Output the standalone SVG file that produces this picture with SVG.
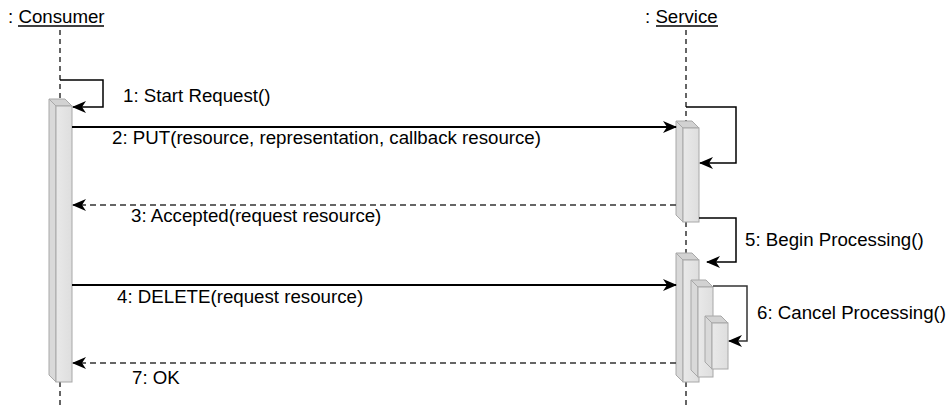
<svg xmlns="http://www.w3.org/2000/svg" width="950" height="406" viewBox="0 0 950 406">
<defs>
<style>
text{font-family:"Liberation Sans",Arial,Helvetica,sans-serif;font-size:18.7px;fill:#000}
.life{stroke:#333;stroke-width:1.5;stroke-dasharray:5,4;fill:none}
.msg{stroke:#000;stroke-width:2;fill:none}
.ret{stroke:#333;stroke-width:1.5;stroke-dasharray:6,4;fill:none}
.self{stroke:#000;stroke-width:1.5;fill:none}
.front{fill:url(#gf);stroke:#a8a8a8;stroke-width:1}
.side{fill:#d9d9d9;stroke:#a8a8a8;stroke-width:1}
.top{fill:#d2d2d2;stroke:#a8a8a8;stroke-width:1}
.ul{stroke:#000;stroke-width:1.3}
</style>
<linearGradient id="gf" x1="0" y1="0" x2="1" y2="0">
<stop offset="0" stop-color="#e9e9e9"/>
<stop offset="1" stop-color="#dedede"/>
</linearGradient>
<marker id="ah" viewBox="0 0 14 12" refX="13" refY="6" markerWidth="14" markerHeight="12" markerUnits="userSpaceOnUse" orient="auto">
<path d="M0,0 L14,6 L0,12 L4,6 Z" fill="#000"/>
</marker>
</defs>

<g id="consumer">
<text x="8" y="23">: Consumer</text>
<line class="ul" x1="18" y1="26" x2="104" y2="26"/>
<line class="life" x1="60" y1="30" x2="60" y2="99"/>
<line class="life" x1="60" y1="382" x2="60" y2="406"/>
<g id="consumer-bar">
<path class="side" d="M49,99 L56,106 L56,382 L49,375 Z"/>
<path class="top" d="M49,99 L65,99 L72,106 L56,106 Z"/>
<rect class="front" x="56" y="106" width="16" height="276"/>
</g>
</g>

<g id="service">
<text x="645" y="23">: Service</text>
<line class="ul" x1="656" y1="26" x2="718" y2="26"/>
<line class="life" x1="686" y1="30" x2="686" y2="121"/>
<line class="life" x1="686" y1="222" x2="686" y2="253"/>
<line class="life" x1="686" y1="382" x2="686" y2="406"/>
<g id="service-bar1">
<path class="side" d="M676,121 L683,128 L683,222 L676,215 Z"/>
<path class="top" d="M676,121 L692,121 L699,128 L683,128 Z"/>
<rect class="front" x="683" y="128" width="16" height="94"/>
</g>
<g id="service-bar2">
<path class="side" d="M676,253 L683,260 L683,382 L676,375 Z"/>
<path class="top" d="M676,253 L692,253 L699,260 L683,260 Z"/>
<rect class="front" x="683" y="260" width="16" height="122"/>
</g>
<g id="service-bar3">
<path class="side" d="M691,280 L698,287 L698,377 L691,370 Z"/>
<path class="top" d="M691,280 L706,280 L713,287 L698,287 Z"/>
<rect class="front" x="698" y="287" width="15" height="90"/>
</g>
<g id="service-bar4">
<path class="side" d="M705,316 L712,323 L712,369 L705,362 Z"/>
<path class="top" d="M705,316 L721,316 L728,323 L712,323 Z"/>
<rect class="front" x="712" y="323" width="16" height="46"/>
</g>
</g>

<g id="connectors">
<polyline class="self" points="60,80 103,80 103,107 73,107" marker-end="url(#ah)"/>
<line class="msg" x1="72" y1="127" x2="676" y2="127" marker-end="url(#ah)"/>
<polyline class="self" points="686,107 736,107 736,163 700,163" marker-end="url(#ah)"/>
<line class="ret" x1="676" y1="205" x2="73" y2="205" marker-end="url(#ah)"/>
<polyline class="self" points="699,218 736,218 736,262 707,262" marker-end="url(#ah)"/>
<line class="msg" x1="72" y1="285" x2="676" y2="285" marker-end="url(#ah)"/>
<polyline class="self" style="stroke:#333" points="713,286 747,286 747,341 729,341" marker-end="url(#ah)"/>
<line class="ret" x1="676" y1="363" x2="73" y2="363" marker-end="url(#ah)"/>
</g>

<g id="labels">
<text x="123" y="102">1: Start Request()</text>
<text x="112" y="144">2: PUT(resource, representation, callback resource)</text>
<text x="131" y="222">3: Accepted(request resource)</text>
<text x="745" y="246">5: Begin Processing()</text>
<text x="117" y="303">4: DELETE(request resource)</text>
<text x="757" y="319">6: Cancel Processing()</text>
<text x="132" y="384">7: OK</text>
</g>
</svg>
